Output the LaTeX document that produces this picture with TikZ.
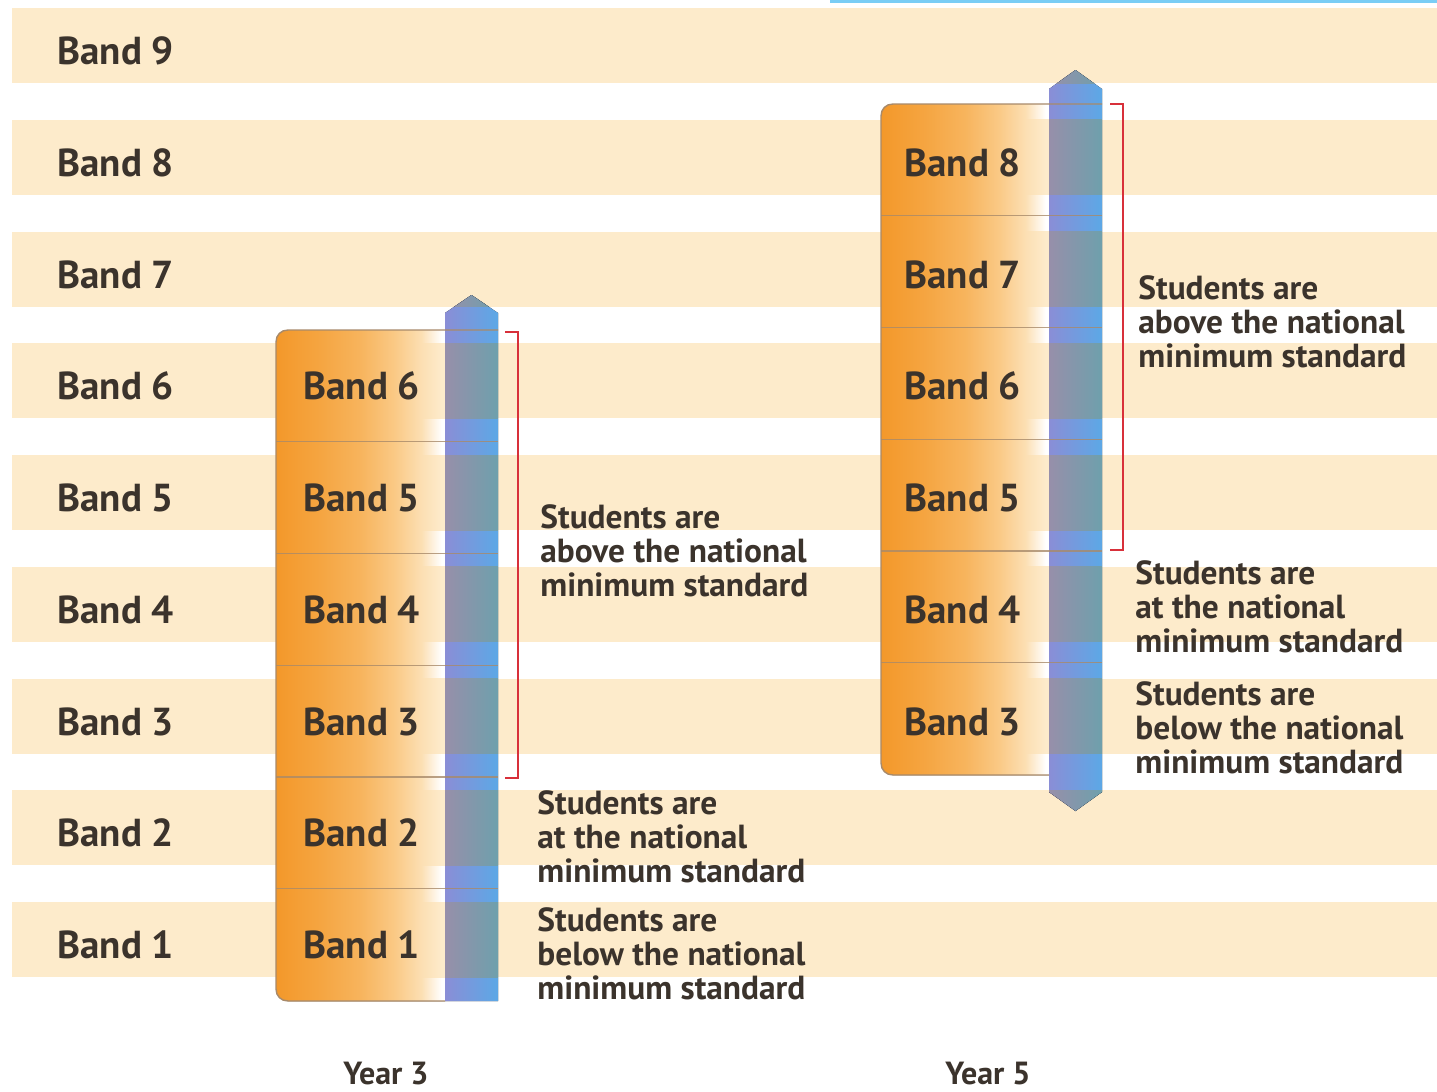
\documentclass[tikz,border=0pt]{standalone}
\usepackage{fontspec}
\setmainfont{PT Sans}
\definecolor{cream}{HTML}{FDEBCB}
\definecolor{bandorange}{HTML}{F3982A}
\definecolor{orangeA}{HTML}{F5A541}
\definecolor{orangemid}{HTML}{F7B45D}
\definecolor{orangelight}{HTML}{FAC985}
\definecolor{orangepale}{HTML}{FCDFB3}
\definecolor{txt}{HTML}{3B332C}
\definecolor{bracketred}{HTML}{D8303A}
\definecolor{barleft}{HTML}{8A8ED6}
\definecolor{barright}{HTML}{5CA8E6}
\definecolor{grayleft}{HTML}{978FAA}
\definecolor{grayright}{HTML}{6EA0AC}
\definecolor{sepline}{HTML}{A88A6A}
\definecolor{topblue}{HTML}{7ACDF5}
\pgfdeclarehorizontalshading{orangefade}{100bp}{color(0bp)=(bandorange); color(25bp)=(bandorange); color(38bp)=(orangeA); color(50bp)=(orangemid); color(60bp)=(orangelight); color(68bp)=(orangepale); color(74bp)=(white); color(100bp)=(white)}
\pgfdeclarehorizontalshading{orangefadecream}{100bp}{color(0bp)=(bandorange); color(25bp)=(bandorange); color(38bp)=(orangeA); color(50bp)=(orangemid); color(60bp)=(orangelight); color(68bp)=(orangepale); color(74bp)=(cream); color(100bp)=(cream)}
\def\YthreeBox{(445,330) -- (288,330) .. controls (281,330) and (276,335) .. (276,342)
  -- (276,989) .. controls (276,996) and (281,1001) .. (288,1001) -- (445,1001) -- cycle}
\def\YthreeBar{(445,1001) -- (445,313) -- (471.5,295) -- (498,313) -- (498,1001) -- cycle}
\def\YfiveBox{(1049,104) -- (893,104) .. controls (886,104) and (881,109) .. (881,116)
  -- (881,763) .. controls (881,770) and (886,775) .. (893,775) -- (1049,775) -- cycle}
\def\YfiveBar{(1049,792) -- (1049,89) -- (1075.5,70) -- (1102,89) -- (1102,792) -- (1075.5,811) -- cycle}
\tikzset{
  bandlbl/.style={font=\fontsize{19.5}{24}\selectfont\bfseries, text=txt, inner sep=0pt, anchor=west},
  notelbl/.style={font=\fontsize{16.7}{17}\selectfont\bfseries, text=txt, inner sep=0pt, anchor=west, align=left},
  yearlbl/.style={font=\fontsize{16}{19}\selectfont\bfseries, text=txt, inner sep=0pt},
  barfill/.style={left color=barleft, right color=barright},
  bargray/.style={left color=grayleft, right color=grayright},
  boxfill/.style={shading=orangefade},
  boxcream/.style={shading=orangefadecream},
  sep/.style={draw=sepline, line width=0.6pt, opacity=0.8},
  bracket/.style={draw=bracketred, line width=0.9pt}
}
\begin{document}
\begin{tikzpicture}[x=0.5pt,y=-0.5pt]
\useasboundingbox (0,0) rectangle (1437,1092);
\fill[white] (0,0) rectangle (1437,1092);
% top artifact strip
\fill[topblue] (830,0) rectangle (1437,3);
% stripes and left labels
\foreach \k/\b in {0/9,1/8,2/7,3/6,4/5,5/4,6/3,7/2,8/1} {
  \fill[cream] (12,{8+111.75*\k}) rectangle (1437,{83+111.75*\k});
  \node[bandlbl] (L\b) at (57,{51+111.75*\k}) {Band \b};
}
% ---------- Year 3 column ----------
\fill[boxfill] \YthreeBox;
\begin{scope}
  \clip \YthreeBox;
  \foreach \k in {2,...,8} { \fill[boxcream] (276,{8+111.75*\k}) rectangle (445,{83+111.75*\k}); }
\end{scope}
\fill[barfill] \YthreeBar;
\begin{scope}
  \clip \YthreeBar;
  \foreach \k in {2,...,8} { \fill[bargray] (445,{8+111.75*\k}) rectangle (498,{83+111.75*\k}); }
\end{scope}
\draw[sepline, line width=0.7pt] (498,330) -- (288,330) .. controls (281,330) and (276,335) .. (276,342)
  -- (276,989) .. controls (276,996) and (281,1001) .. (288,1001) -- (445,1001);
\foreach \j in {1,...,5} { \draw[sep] (276,{330+111.75*\j}) -- (498,{330+111.75*\j}); }
\foreach \k/\b in {3/6,4/5,5/4,6/3,7/2,8/1} {
  \node[bandlbl] (A\b) at (303,{51+111.75*\k}) {Band \b};
}
\coordinate (b3t) at (505,332);
\coordinate (b3b) at (505,778);
\draw[bracket] (b3t) -- (518,332) -- (518,778) -- (b3b);
\node[notelbl] (A-above) at (540,551) {Students are\\above the national\\minimum standard};
\node[notelbl] (A-at) at (537,837) {Students are\\at the national\\minimum standard};
\node[notelbl] (A-below) at (537,954) {Students are\\below the national\\minimum standard};
\node[yearlbl] (Y3) at (386,1074) {Year 3};
% ---------- Year 5 column ----------
\fill[boxfill] \YfiveBox;
\begin{scope}
  \clip \YfiveBox;
  \foreach \k in {0,...,7} { \fill[boxcream] (881,{8+111.75*\k}) rectangle (1049,{83+111.75*\k}); }
\end{scope}
\fill[barfill] \YfiveBar;
\begin{scope}
  \clip \YfiveBar;
  \foreach \k in {0,...,7} { \fill[bargray] (1049,{8+111.75*\k}) rectangle (1102,{83+111.75*\k}); }
\end{scope}
\draw[sepline, line width=0.7pt] (1102,104) -- (893,104) .. controls (886,104) and (881,109) .. (881,116)
  -- (881,763) .. controls (881,770) and (886,775) .. (893,775) -- (1049,775);
\foreach \j in {1,...,5} { \draw[sep] (881,{104+111.75*\j}) -- (1102,{104+111.75*\j}); }
\foreach \k/\b in {1/8,2/7,3/6,4/5,5/4,6/3} {
  \node[bandlbl] (B\b) at (904,{51+111.75*\k}) {Band \b};
}
\coordinate (b5t) at (1110,104);
\coordinate (b5b) at (1110,550);
\draw[bracket] (b5t) -- (1123,104) -- (1123,550) -- (b5b);
\node[notelbl] (B-above) at (1138,322) {Students are\\above the national\\minimum standard};
\node[notelbl] (B-at) at (1135,607) {Students are\\at the national\\minimum standard};
\node[notelbl] (B-below) at (1135,728) {Students are\\below the national\\minimum standard};
\node[yearlbl] (Y5) at (988,1074) {Year 5};
\end{tikzpicture}
\end{document}
